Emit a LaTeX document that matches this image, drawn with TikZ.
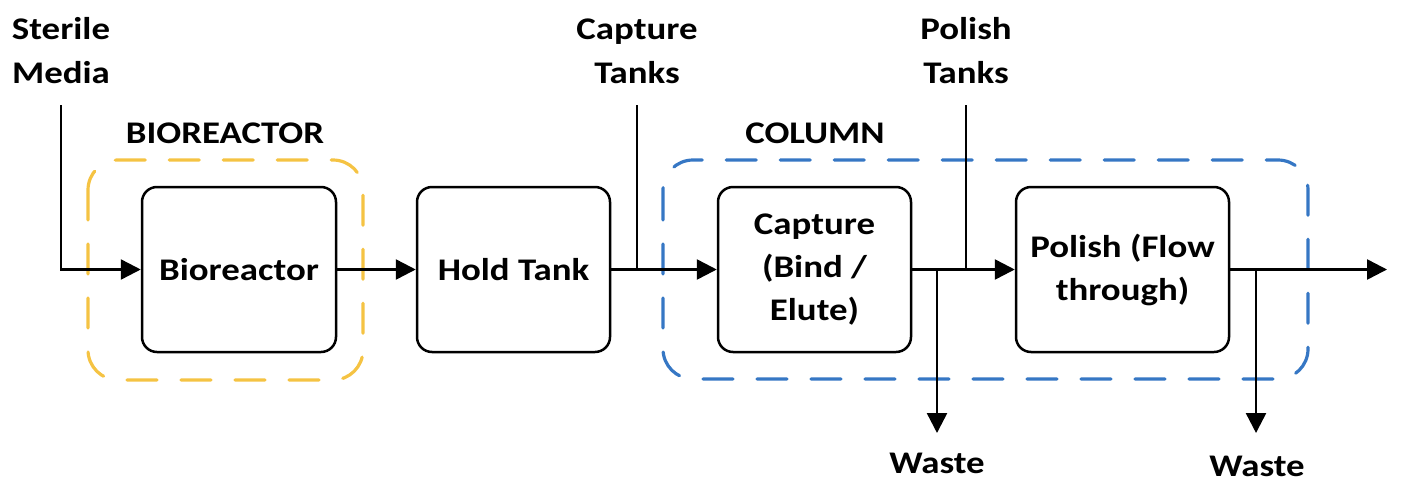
\documentclass[tikz,border=0pt]{standalone}
\usepackage{fontspec}
\setmainfont{Carlito}[FakeStretch=1.17]
\usetikzlibrary{arrows.meta}
\definecolor{ygold}{HTML}{F5C343}
\definecolor{cblue}{HTML}{3677C4}
\begin{document}
\begin{tikzpicture}[x=1pt,y=-1pt,
  lbl/.style={font=\bfseries\fontsize{31.5}{43.5}\selectfont, align=center, inner sep=0pt},
  unitbox/.style={draw, line width=2.5pt, rounded corners=15pt, minimum height=165pt, inner sep=0pt, align=center, font=\bfseries\fontsize{31.5}{43}\selectfont},
  grp/.style={line width=3.2pt, line cap=round, rounded corners=30pt, dash pattern=on 30pt off 24pt},
  flow/.style={line width=2.5pt, -{Triangle[length=20pt,width=20pt]}},
  pipe/.style={line width=2.5pt}]
\useasboundingbox (0,0) rectangle (1420,498);
% group frames
\draw[grp, ygold] (88,160) rectangle (363,380);
\draw[grp, cblue] (663,160) rectangle (1308,379);
% boxes
\node[unitbox, minimum width=194pt] (bio) at (239,269.5) {Bioreactor};
\node[unitbox, minimum width=193pt] (hold) at (513.5,269.5) {Hold Tank};
\node[unitbox, minimum width=193pt] (cap) at (814.5,269.5) {Capture\\(Bind /\\Elute)};
\node[unitbox, minimum width=213pt] (pol) at (1122.5,269.5) {Polish (Flow\\through)};
% labels
\node[lbl, anchor=base] (sm) at (61,83) {Sterile\\Media};
\node[lbl, anchor=base] (ct) at (637,83) {Capture\\Tanks};
\node[lbl, anchor=base] (pt) at (966,83) {Polish\\Tanks};
\node[lbl, anchor=base] (bl) at (225,143) {BIOREACTOR};
\node[lbl, anchor=base] (cl) at (815,143) {COLUMN};
\node[lbl, anchor=base] (w1) at (937,473) {Waste};
\node[lbl, anchor=base] (w2) at (1257,476) {Waste};
% coordinates
\coordinate (smtop) at (61,105);
\coordinate (cttop) at (637,105);
\coordinate (pttop) at (966,105);
\coordinate (w1j) at (937,269.5);
\coordinate (w2j) at (1256,269.5);
\coordinate (w1end) at (937,433);
\coordinate (w2end) at (1256,433);
\coordinate (out) at (1387,269.5);
% connectors
\draw[flow] (smtop) |- (bio.west);
\draw[flow] (bio.east) -- (hold.west);
\draw[flow] (hold.east) -- (cap.west);
\draw[pipe] (cttop) -- (cttop |- hold.east);
\draw[flow] (cap.east) -- (pol.west);
\draw[pipe] (pttop) -- (pttop |- pol.west);
\draw[flow] (w1j) -- (w1end);
\draw[flow] (pol.east) -- (out);
\draw[flow] (w2j) -- (w2end);
\end{tikzpicture}
\end{document}
